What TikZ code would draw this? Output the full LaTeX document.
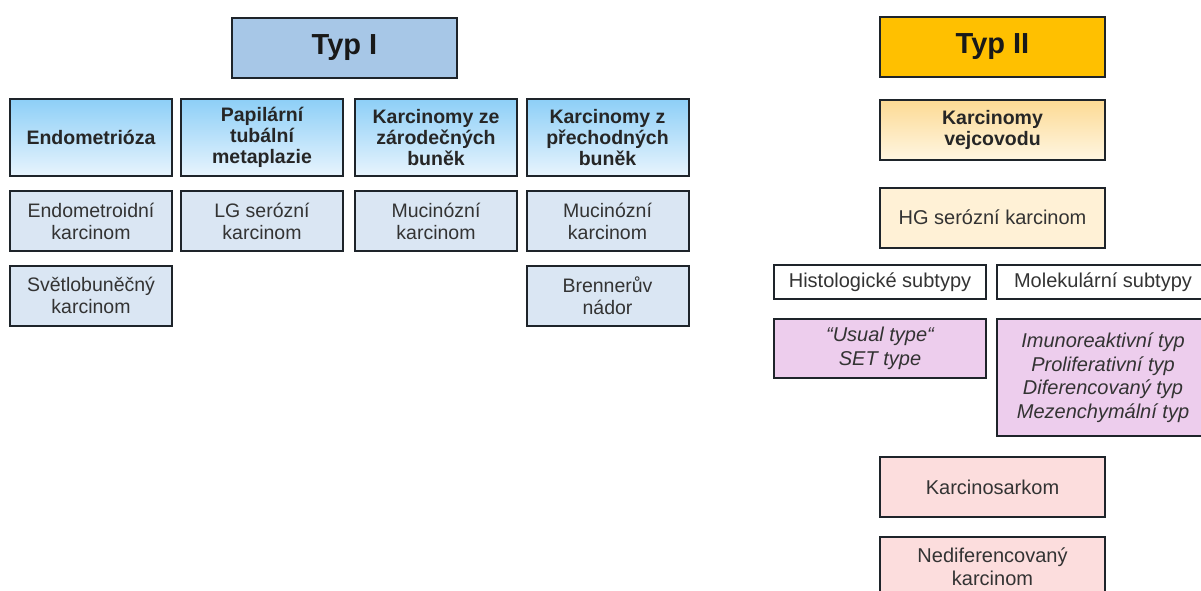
\documentclass[tikz,border=0pt]{standalone}
\usepackage{fontspec}
\setmainfont{Liberation Sans}
\usetikzlibrary{positioning}

\definecolor{txtgray}{HTML}{333333}
\definecolor{boxline}{HTML}{1E242A}
\definecolor{typIfill}{HTML}{A7C7E7}
\definecolor{skytop}{HTML}{8DCFF7}
\definecolor{skybot}{HTML}{E8F4FD}
\definecolor{paleblue}{HTML}{DAE6F3}
\definecolor{typIIfill}{HTML}{FFC000}
\definecolor{sandtop}{HTML}{FCDA94}
\definecolor{sandbot}{HTML}{FFF6E2}
\definecolor{cream}{HTML}{FFF1D6}
\definecolor{lilac}{HTML}{EDCDED}
\definecolor{rose}{HTML}{FCDDDD}

\begin{document}
\begin{tikzpicture}[x=1pt,y=-1pt,
  box/.style={draw=boxline,line width=2pt,inner sep=0pt,align=center},
  typbox/.style={box,minimum width=225pt,minimum height=60pt,
    font=\bfseries\fontsize{29}{33}\selectfont,text=black!90},
  headbox/.style={box,minimum width=162pt,minimum height=77pt,
    top color=skytop,bottom color=skybot,
    font=\bfseries\fontsize{19.5}{21}\selectfont,text=black!85},
  leafbox/.style={box,fill=paleblue,minimum width=162pt,minimum height=60pt,
    font=\fontsize{19.5}{22}\selectfont,text=txtgray},
  rbox/.style={box,minimum width=225pt,minimum height=60pt,
    font=\fontsize{20}{23}\selectfont,text=txtgray},
  subbox/.style={box,minimum width=212pt,
    font=\fontsize{20}{23.5}\selectfont,text=txtgray}]

\useasboundingbox (0,0) rectangle (1201,590);
\fill[white] (0,0) rectangle (1201,590);
\clip (0,0) rectangle (1201,590);

%% Typ I
\node[typbox,fill=typIfill] (typI) at (344.5,48) {Typ I};

\node[headbox] (endo)  at (91,137.5)  {Endometrióza};
\node[headbox] (papil) at (262,137.5) {Papilární\\tubální\\metaplazie};
\node[headbox] (zarod) at (436,137.5) {Karcinomy ze\\zárodečných\\buněk};
\node[headbox] (prech) at (607.5,137.5) {Karcinomy z\\přechodných\\buněk};

\node[leafbox] (endoK) at (91,221)    {Endometroidní\\karcinom};
\node[leafbox] (lgK)   at (262,221)   {LG serózní\\karcinom};
\node[leafbox] (mucA)  at (436,221)   {Mucinózní\\karcinom};
\node[leafbox] (mucB)  at (607.5,221) {Mucinózní\\karcinom};

\node[leafbox] (svetK)   at (91,295.5)    {Světlobuněčný\\karcinom};
\node[leafbox] (brenner) at (607.5,295.5) {Brennerův\\nádor};

%% Typ II
\node[typbox,fill=typIIfill] (typII) at (992.5,47) {Typ II};

\node[rbox,top color=sandtop,bottom color=sandbot,
  font=\bfseries\fontsize{19.5}{21.5}\selectfont,text=black!85] (vejc) at (992.5,130) {Karcinomy\\vejcovodu};
\node[rbox,fill=cream] (hg) at (992.5,217.5) {HG serózní karcinom};

% subtypy
\node[subbox,fill=white,minimum height=34pt] (hist)  at (880,282)  {Histologické subtypy};
\node[subbox,fill=white,minimum height=34pt] (molek) at (1103,282) {Molekulární subtypy};

\node[subbox,fill=lilac,minimum height=59pt,font=\itshape\fontsize{20}{23.5}\selectfont] (usual) at (880,348.5)
  {“Usual type“\\SET type};
\node[subbox,fill=lilac,minimum height=117pt,font=\itshape\fontsize{20}{23.5}\selectfont] (imuno) at (1103,377.5)
  {Imunoreaktivní typ\\Proliferativní typ\\Diferencovaný typ\\Mezenchymální typ};

\node[rbox,fill=rose] (ksark) at (992.5,487) {Karcinosarkom};
\node[rbox,fill=rose] (nedif) at (992.5,567) {Nediferencovaný\\karcinom};

\end{tikzpicture}
\end{document}
